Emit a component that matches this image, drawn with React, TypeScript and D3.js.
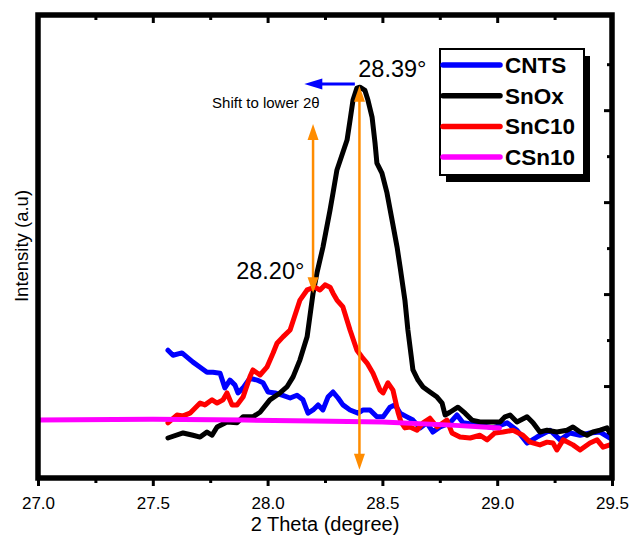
import React, { useEffect, useRef } from 'react';
import * as d3 from 'd3';

// series (2 theta in degrees, intensity in a.u.)
const cntsTheta = [27.566, 27.588, 27.627, 27.649, 27.675, 27.706, 27.736, 27.762, 27.793, 27.814, 27.836, 27.858, 27.871, 27.893, 27.923, 27.954, 27.980, 28.002, 28.032, 28.063, 28.098, 28.128, 28.154, 28.176, 28.198, 28.220, 28.241, 28.263, 28.285, 28.307, 28.328, 28.359, 28.394, 28.416, 28.446, 28.476, 28.503, 28.533, 28.555, 28.577, 28.607, 28.633, 28.664, 28.694, 28.720, 28.751, 28.794, 28.825, 28.851, 28.925, 28.982, 29.043, 29.086, 29.130, 29.173, 29.230, 29.274, 29.317, 29.361, 29.404, 29.448, 29.491];
const cntsInt = [27.8, 26.7, 27.2, 26.3, 25.2, 24.1, 23.0, 23.0, 22.8, 19.6, 21.3, 20.2, 18.5, 19.6, 21.7, 21.3, 20.7, 18.7, 18.5, 18.0, 17.4, 18.0, 17.0, 14.1, 14.8, 15.9, 14.8, 17.6, 18.7, 17.4, 15.9, 14.8, 14.1, 14.8, 14.8, 13.3, 13.3, 15.4, 15.9, 14.1, 13.3, 12.6, 10.9, 12.0, 10.0, 11.1, 12.0, 13.7, 12.0, 11.5, 10.9, 12.0, 10.4, 7.6, 8.9, 10.4, 8.3, 9.8, 9.3, 9.8, 10.0, 8.7];

const snoxTheta = [27.566, 27.632, 27.675, 27.706, 27.736, 27.758, 27.780, 27.823, 27.867, 27.893, 27.936, 27.967, 28.010, 28.054, 28.084, 28.111, 28.141, 28.172, 28.198, 28.215, 28.241, 28.272, 28.285, 28.302, 28.346, 28.359, 28.372, 28.389, 28.402, 28.424, 28.437, 28.455, 28.468, 28.476, 28.498, 28.520, 28.542, 28.564, 28.577, 28.598, 28.611, 28.625, 28.633, 28.655, 28.677, 28.707, 28.738, 28.760, 28.773, 28.794, 28.829, 28.860, 28.890, 28.925, 28.969, 29.012, 29.034, 29.056, 29.086, 29.130, 29.156, 29.186, 29.217, 29.260, 29.304, 29.330, 29.361, 29.391, 29.417, 29.448, 29.478, 29.491];
const snoxInt = [8.7, 9.8, 9.3, 8.9, 10.0, 9.3, 11.1, 12.2, 12.0, 13.3, 13.3, 14.3, 17.0, 18.5, 19.8, 22.0, 25.7, 30.7, 40.2, 44.6, 50.2, 58.3, 62.0, 67.0, 73.5, 77.8, 82.2, 84.8, 85.0, 84.3, 82.2, 78.5, 72.8, 68.5, 66.3, 62.0, 56.1, 50.2, 45.9, 38.7, 32.2, 26.7, 23.5, 21.3, 19.8, 18.7, 17.6, 16.3, 13.7, 14.3, 15.4, 14.1, 12.6, 12.2, 12.2, 12.2, 13.3, 13.7, 12.2, 13.3, 12.0, 10.0, 10.4, 10.0, 10.4, 11.1, 10.0, 9.3, 10.0, 10.4, 10.9, 9.8];

const snc10Theta = [27.566, 27.605, 27.632, 27.662, 27.706, 27.727, 27.758, 27.780, 27.806, 27.823, 27.845, 27.867, 27.893, 27.923, 27.936, 27.967, 27.997, 28.024, 28.041, 28.067, 28.098, 28.141, 28.172, 28.206, 28.228, 28.250, 28.272, 28.285, 28.302, 28.328, 28.359, 28.389, 28.411, 28.433, 28.459, 28.490, 28.503, 28.524, 28.546, 28.568, 28.581, 28.598, 28.620, 28.651, 28.677, 28.707, 28.738, 28.781, 28.803, 28.838, 28.882, 28.925, 28.956, 28.990, 29.025, 29.069, 29.112, 29.143, 29.186, 29.217, 29.243, 29.260, 29.287, 29.330, 29.361, 29.404, 29.435, 29.461, 29.491];
const snc10Int = [12.0, 13.7, 13.5, 14.1, 16.3, 15.9, 17.0, 16.3, 17.0, 18.5, 15.9, 15.9, 17.6, 22.0, 23.5, 22.4, 24.1, 27.2, 29.3, 30.7, 32.2, 38.7, 40.9, 41.5, 40.9, 42.0, 41.5, 40.2, 38.7, 37.2, 32.2, 27.8, 26.3, 25.0, 22.8, 19.1, 18.5, 20.7, 19.1, 14.3, 12.2, 10.9, 11.1, 10.4, 12.0, 13.0, 11.1, 12.6, 9.8, 8.9, 8.7, 9.3, 8.3, 9.8, 10.0, 10.4, 9.3, 7.8, 7.2, 7.8, 7.6, 6.1, 8.3, 7.2, 6.1, 7.6, 8.3, 6.7, 7.2];

const csn10Theta = [27.0, 27.5, 27.9, 28.2, 28.5, 28.8, 29.01];
const csn10Int = [12.6, 12.8, 12.6, 12.4, 12.2, 11.5, 10.9];

const seriesNames = ['CNTS', 'SnOx', 'SnC10', 'CSn10'];
const seriesColors = ['#0000ff', '#000000', '#ff0000', '#ff00ff'];

const xMajor = [27.0, 27.5, 28.0, 28.5, 29.0, 29.5];
const xMinor = [27.25, 27.75, 28.25, 28.75, 29.25];
const yMajor = [20, 40, 60, 80];
const yMinor = [10, 30, 50, 70, 90];

const App = () => {
  const svgRef = useRef<SVGSVGElement>(null);

  useEffect(() => {
    const W = 632, H = 538;
    const margin = { top: 15, right: 20, bottom: 60, left: 38 };
    const width = W - margin.left - margin.right;
    const height = H - margin.top - margin.bottom;

    d3.select(svgRef.current).selectAll('*').remove();
    const root = d3.select(svgRef.current).attr('width', W).attr('height', H);
    const svg = root.append('g').attr('transform', `translate(${margin.left},${margin.top})`);

    const x = d3.scaleLinear().domain([27, 29.5]).range([0, width]);
    const y = d3.scaleLinear().domain([0, 100.7]).range([height, 0]);

    const font = 'Arial, "Liberation Sans", sans-serif';

    root.append('defs').append('clipPath').attr('id', 'plotclip')
      .append('rect').attr('width', width).attr('height', height);

    const thetas = [cntsTheta, snoxTheta, snc10Theta, csn10Theta];
    const ints = [cntsInt, snoxInt, snc10Int, csn10Int];

    const line = d3.line<[number, number]>()
      .x(d => x(d[0]))
      .y(d => y(d[1]));

    // curves
    const curves = svg.append('g').attr('clip-path', 'url(#plotclip)');
    [0, 1, 2, 3].forEach(i => {
      const pts = thetas[i].map((t, k) => [t, ints[i][k]] as [number, number]);
      curves.append('path')
        .attr('d', line(pts))
        .attr('fill', 'none')
        .attr('stroke', seriesColors[i])
        .attr('stroke-width', 5)
        .attr('stroke-linejoin', 'round')
        .attr('stroke-linecap', 'round');
    });

    // bottom axis
    const bottom = svg.append('g').attr('transform', `translate(0,${height})`)
      .call(d3.axisBottom(x).tickValues(xMajor).tickSize(8).tickFormat(d3.format('.1f')));
    bottom.select('.domain').remove();
    bottom.selectAll('line').attr('stroke-width', 3);
    bottom.selectAll('text').attr('font-size', 17).attr('font-family', font).attr('fill', '#000').attr('dy', '1.2em');
    svg.append('g').attr('transform', `translate(0,${height})`)
      .call(d3.axisBottom(x).tickValues(xMinor).tickSize(5).tickFormat(() => ''))
      .call(g => g.select('.domain').remove())
      .selectAll('line').attr('stroke-width', 3);

    // top axis, ticks pointing in
    svg.append('g')
      .call(d3.axisBottom(x).tickValues(xMajor).tickSize(8).tickFormat(() => ''))
      .call(g => g.select('.domain').remove())
      .selectAll('line').attr('stroke-width', 3);
    svg.append('g')
      .call(d3.axisBottom(x).tickValues(xMinor).tickSize(5).tickFormat(() => ''))
      .call(g => g.select('.domain').remove())
      .selectAll('line').attr('stroke-width', 3);

    // right axis, ticks pointing in
    svg.append('g').attr('transform', `translate(${width},0)`)
      .call(d3.axisLeft(y).tickValues(yMajor).tickSize(8).tickFormat(() => ''))
      .call(g => g.select('.domain').remove())
      .selectAll('line').attr('stroke-width', 3);
    svg.append('g').attr('transform', `translate(${width},0)`)
      .call(d3.axisLeft(y).tickValues(yMinor).tickSize(5).tickFormat(() => ''))
      .call(g => g.select('.domain').remove())
      .selectAll('line').attr('stroke-width', 3);

    // frame
    svg.append('rect')
      .attr('width', width).attr('height', height)
      .attr('fill', 'none').attr('stroke', '#000').attr('stroke-width', 5.5);

    // axis titles
    svg.append('text')
      .attr('x', width / 2).attr('y', height + 53)
      .attr('text-anchor', 'middle').attr('font-family', font).attr('font-size', 20)
      .text('2 Theta (degree)');
    svg.append('text')
      .attr('transform', 'rotate(-90)')
      .attr('x', -(246 - margin.top)).attr('y', -10)
      .attr('text-anchor', 'middle').attr('font-family', font).attr('font-size', 18.5)
      .text('Intensity (a.u)');

    // annotations
    const orange = '#ff8c00';
    const vArrow = (t: number, y1: number, y2: number) => {
      const px = x(t), top = y(y1), bot = y(y2);
      svg.append('line').attr('x1', px).attr('x2', px).attr('y1', top + 10).attr('y2', bot - 10)
        .attr('stroke', orange).attr('stroke-width', 2.5);
      svg.append('path').attr('d', `M${px},${top} L${px - 5.5},${top + 16} L${px + 5.5},${top + 16} Z`).attr('fill', orange);
      svg.append('path').attr('d', `M${px},${bot} L${px - 5.5},${bot - 16} L${px + 5.5},${bot - 16} Z`).attr('fill', orange);
    };
    vArrow(28.4, 85.3, 1.8);
    vArrow(28.198, 77.0, 40.2);

    // blue shift arrow
    const by = y(85.7);
    const bx1 = x(28.38), bx2 = x(28.16);
    svg.append('line').attr('x1', bx1).attr('x2', bx2 + 10).attr('y1', by).attr('y2', by)
      .attr('stroke', '#0000ff').attr('stroke-width', 3);
    svg.append('path').attr('d', `M${bx2},${by} L${bx2 + 18},${by - 5.5} L${bx2 + 18},${by + 5.5} Z`).attr('fill', '#0000ff');

    svg.append('text').attr('x', x(28.395)).attr('y', y(87.2))
      .attr('font-family', font).attr('font-size', 23.5).text('28.39°');
    svg.append('text').attr('x', x(27.863)).attr('y', y(43.2))
      .attr('font-family', font).attr('font-size', 23.5).text('28.20°');
    svg.append('text').attr('x', x(27.758)).attr('y', y(80.4))
      .attr('font-family', font).attr('font-size', 15).text('Shift to lower 2θ');

    // legend
    const lx = 440 - margin.left, ly = 49 - margin.top;
    const lw = 144, lh = 126;
    svg.append('rect').attr('x', lx + 6).attr('y', ly + 7).attr('width', lw).attr('height', lh).attr('fill', '#000');
    svg.append('rect').attr('x', lx).attr('y', ly).attr('width', lw).attr('height', lh)
      .attr('fill', '#fff').attr('stroke', '#000').attr('stroke-width', 2);
    seriesNames.forEach((name, i) => {
      const yy = ly + 16 + i * 30.7;
      svg.append('line').attr('x1', lx + 3).attr('x2', lx + 60).attr('y1', yy).attr('y2', yy)
        .attr('stroke', seriesColors[i]).attr('stroke-width', 5.5).attr('stroke-linecap', 'round');
      svg.append('text').attr('x', lx + 65).attr('y', yy + 8)
        .attr('font-family', font).attr('font-size', 22.5).attr('font-weight', 'bold')
        .text(name);
    });
  }, []);

  return (
    <svg ref={svgRef} style={{ position: 'absolute', left: 0, top: 0, background: '#fff' }}></svg>
  );
};

export default App;
